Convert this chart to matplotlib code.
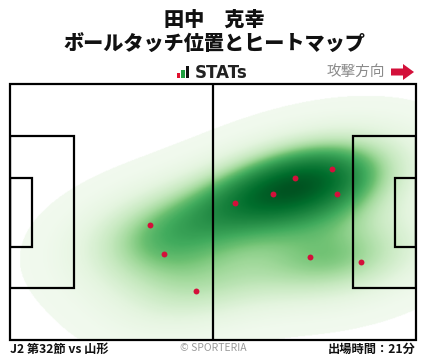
import numpy as np
import matplotlib
matplotlib.use("Agg")
import matplotlib.pyplot as plt
from matplotlib.patches import Rectangle, Polygon
from matplotlib.colors import LinearSegmentedColormap

plt.rcParams['font.family'] = ['Noto Sans CJK JP', 'DejaVu Sans']

# ---- data ----
title_name = "田中　克幸"
title_sub = "ボールタッチ位置とヒートマップ"
match_label = "J2 第32節 vs 山形"
minutes_label = "出場時間：21分"
credit = "© SPORTERIA"
direction_label = "攻撃方向"

touch_x = [36.2, 39.8, 48.1, 58.2, 68.0, 73.7, 83.3, 84.6, 77.6, 90.8]
touch_y = [37.4, 45.2, 55.0, 31.6, 29.2, 25.0, 22.6, 29.2, 46.0, 47.3]

FIELD_L, FIELD_W = 105.0, 68.0

W, H = 428, 359
fig = plt.figure(figsize=(W / 100, H / 100), dpi=100)

ax = fig.add_axes([10.3 / W, 1 - 340 / H, (416.3 - 10.3) / W, (340 - 84.3) / H])
ax.axis('off')

# ---- KDE (scott, full covariance), iso-proportion shading ----
pts = np.vstack([touch_x, touch_y])
n = pts.shape[1]
factor = n ** (-1.0 / 6) * 1.1
cov = np.cov(pts) * factor ** 2
inv = np.linalg.inv(cov)


def kde(XX, YY):
    d = np.zeros_like(XX)
    for i in range(n):
        dx = XX - pts[0, i]
        dy = YY - pts[1, i]
        q = inv[0, 0] * dx * dx + 2 * inv[0, 1] * dx * dy + inv[1, 1] * dy * dy
        d += np.exp(-0.5 * q)
    return d


# wide grid for mass proportions
wx = np.linspace(-90, 195, 600)
wy = np.linspace(-90, 158, 520)
WX, WY = np.meshgrid(wx, wy)
wd = kde(WX, WY).ravel()
order = np.sort(wd)
cmass = np.cumsum(order)
cmass /= cmass[-1]

gx = np.linspace(0, FIELD_L, 520)
gy = np.linspace(0, FIELD_W, 340)
XX, YY = np.meshgrid(gx, gy)
dens = kde(XX, YY)
prop = np.interp(dens, order, cmass)  # mass lying at lower density

thresh = 0.016
cm2 = LinearSegmentedColormap.from_list('g2', plt.get_cmap('Greens')(np.linspace(0.04, 0.95, 256)))
val = np.clip((prop - thresh) / (1 - thresh), 0, 1) ** 1.15
rgba = cm2(val)
rgba[..., 3] = np.where(prop > thresh, 1.0, 0.0)
ax.imshow(rgba, extent=(0, FIELD_L, FIELD_W, 0), origin='upper', interpolation='bilinear',
          aspect='auto', zorder=1)
ax.set_xlim(0, FIELD_L)
ax.set_ylim(FIELD_W, 0)

# ---- pitch lines ----
lw = 1.6
lc = 'black'
ax.add_patch(Rectangle((0, 0), FIELD_L, FIELD_W, fill=False, lw=lw, ec=lc, zorder=3, clip_on=False))
ax.plot([FIELD_L / 2, FIELD_L / 2], [0, FIELD_W], color=lc, lw=lw, zorder=3)
pb_w, pb_d = 40.32, 16.5
ga_w, ga_d = 18.32, 5.5
ax.add_patch(Rectangle((0, (FIELD_W - pb_w) / 2), pb_d, pb_w, fill=False, lw=lw, ec=lc, zorder=3))
ax.add_patch(Rectangle((0, (FIELD_W - ga_w) / 2), ga_d, ga_w, fill=False, lw=lw, ec=lc, zorder=3))
ax.add_patch(Rectangle((FIELD_L - pb_d, (FIELD_W - pb_w) / 2), pb_d, pb_w, fill=False, lw=lw, ec=lc, zorder=3))
ax.add_patch(Rectangle((FIELD_L - ga_d, (FIELD_W - ga_w) / 2), ga_d, ga_w, fill=False, lw=lw, ec=lc, zorder=3))

ax.scatter(touch_x, touch_y, s=18, color='#d3103a', zorder=4, linewidths=0)

# ---- texts ----
fig.text(0.5, 1 - 20 / H, title_name, ha='center', va='center', fontsize=14.5, fontweight='heavy', color='#111111')
fig.text(0.5, 1 - 45 / H, title_sub, ha='center', va='center', fontsize=14.5, fontweight='heavy', color='#111111')

# STATs logo
lax = fig.add_axes([0, 0, 1, 1], facecolor='none')
lax.set_xlim(0, W)
lax.set_ylim(H, 0)
lax.axis('off')
lax.add_patch(Rectangle((177, 73), 3.5, 5, color='#e0102f', lw=0))
lax.add_patch(Rectangle((181.5, 70), 3.5, 8, color='#1fa040', lw=0))
lax.add_patch(Rectangle((186, 66), 3.5, 12, color='#111111', lw=0))
fig.text(195 / W, 1 - 72.5 / H, "STATs", ha='left', va='center', fontsize=12, fontweight='bold',
         color='#222222', family=['DejaVu Sans'])

fig.text(385 / W, 1 - 72 / H, direction_label, ha='right', va='center', fontsize=10.5, color='#8a8a8a')
lax.add_patch(Polygon([[391, 68.5], [403, 68.5], [403, 64], [414, 72], [403, 80], [403, 75.5], [391, 75.5]],
                      closed=True, color='#d3103a', lw=0))

fig.text(10 / W, 1 - 349 / H, match_label, ha='left', va='center', fontsize=8.8, fontweight='bold', color='#111111')
fig.text(213 / W, 1 - 348 / H, credit, ha='center', va='center', fontsize=7.5, color='#9a9a9a')
fig.text(416 / W, 1 - 349 / H, minutes_label, ha='right', va='center', fontsize=8.8, fontweight='bold', color='#111111')

fig.savefig('out.png', dpi=100)
